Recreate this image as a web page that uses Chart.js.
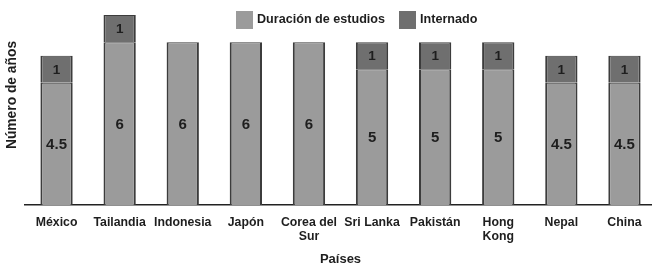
<!DOCTYPE html>
<html>
<head>
<meta charset="utf-8">
<script src="https://cdn.jsdelivr.net/npm/chart.js@4/dist/chart.umd.min.js"></script>
<style>
  html, body { margin: 0; padding: 0; background: #fff; overflow: hidden; }
  #chart { display: block; }
</style>
</head>
<body>
<canvas id="chart" width="660" height="267"></canvas>
<script>
// valores
var paises = ['México', 'Tailandia', 'Indonesia', 'Japón', ['Corea del', 'Sur'], 'Sri Lanka', 'Pakistán', ['Hong', 'Kong'], 'Nepal', 'China'];
var estudios = [4.5, 6, 6, 6, 6, 5, 5, 5, 4.5, 4.5];
var internado = [1, 1, null, null, null, 1, 1, 1, 1, 1];
var serieNombres = ['Duración de estudios', 'Internado'];
var serieColores = ['#9b9b9b', '#6f6f6f'];
var tituloY = 'Número de años';
var tituloX = 'Países';

var FONT = '"Liberation Sans", Arial, sans-serif';

// etiquetas dentro de las barras
var barLabels = {
    id: 'barLabels',
    afterDatasetsDraw: function (chart) {
        var ctx = chart.ctx;
        ctx.save();
        ctx.fillStyle = '#1e1e1e';
        ctx.textAlign = 'center';
        ctx.textBaseline = 'middle';
        chart.data.datasets.forEach(function (ds, di) {
            var meta = chart.getDatasetMeta(di);
            ctx.font = 'bold ' + (di === 0 ? 15 : 13.5) + 'px ' + FONT;
            meta.data.forEach(function (bar, i) {
                var v = ds.data[i];
                if (v === null || v === undefined) return;
                var p = bar.getCenterPoint();
                ctx.fillText(String(v), p.x, p.y + 1);
            });
        });
        ctx.restore();
    }
};

// leyenda arriba y titulo vertical (un poco mas alto que el centro)
var extras = {
    id: 'extras',
    afterDraw: function (chart) {
        var ctx = chart.ctx;
        var xs = [236, 399];
        ctx.save();
        ctx.font = 'bold 12.6px ' + FONT;
        ctx.textBaseline = 'middle';
        ctx.textAlign = 'left';
        chart.data.datasets.forEach(function (ds, di) {
            ctx.fillStyle = ds.backgroundColor;
            ctx.fillRect(xs[di], 11, 17, 18);
            ctx.fillStyle = '#1e1e1e';
            ctx.fillText(ds.label, xs[di] + 21, 20);
        });
        ctx.translate(12, 95);
        ctx.rotate(-Math.PI / 2);
        ctx.textAlign = 'center';
        ctx.font = 'bold 13.8px ' + FONT;
        ctx.fillText(tituloY, 0, 0);
        ctx.restore();
    }
};

var ctx = document.getElementById('chart');
var myChart = new Chart(ctx, {
    type: 'bar',
    data: {
        labels: paises,
        datasets: [
            {
                label: serieNombres[0],
                data: estudios,
                backgroundColor: serieColores[0],
                borderColor: '#3c3c3c',
                borderWidth: { left: 2, right: 2, top: 1, bottom: 0 },
                barPercentage: 0.8,
                categoryPercentage: 0.64
            },
            {
                label: serieNombres[1],
                data: internado,
                backgroundColor: serieColores[1],
                borderColor: '#3c3c3c',
                borderWidth: { left: 2, right: 2, top: 1, bottom: 0 },
                barPercentage: 0.8,
                categoryPercentage: 0.64
            }
        ]
    },
    options: {
        responsive: false,
        animation: false,
        layout: { padding: { top: 15, right: 4, left: 0, bottom: 0 } },
        plugins: {
            legend: { display: false },
            tooltip: { enabled: false }
        },
        scales: {
            x: {
                stacked: true,
                grid: { display: false },
                border: { display: true, color: '#222', width: 1.5 },
                ticks: {
                    color: '#1e1e1e',
                    font: { family: FONT, size: 12.3, weight: 'bold', lineHeight: 1.1 },
                    padding: 3,
                    maxRotation: 0,
                    autoSkip: false
                },
                title: {
                    display: true,
                    text: tituloX,
                    color: '#1e1e1e',
                    font: { family: FONT, size: 13, weight: 'bold' },
                    padding: { top: 0, bottom: 0 }
                },
                afterFit: function (scale) { scale.height = 62; }
            },
            y: {
                stacked: true,
                min: 0,
                max: 7,
                grid: { display: false },
                border: { display: false },
                ticks: { display: false },
                afterFit: function (scale) { scale.width = 25; }
            }
        }
    },
    plugins: [barLabels, extras]
});
</script>
</body>
</html>
